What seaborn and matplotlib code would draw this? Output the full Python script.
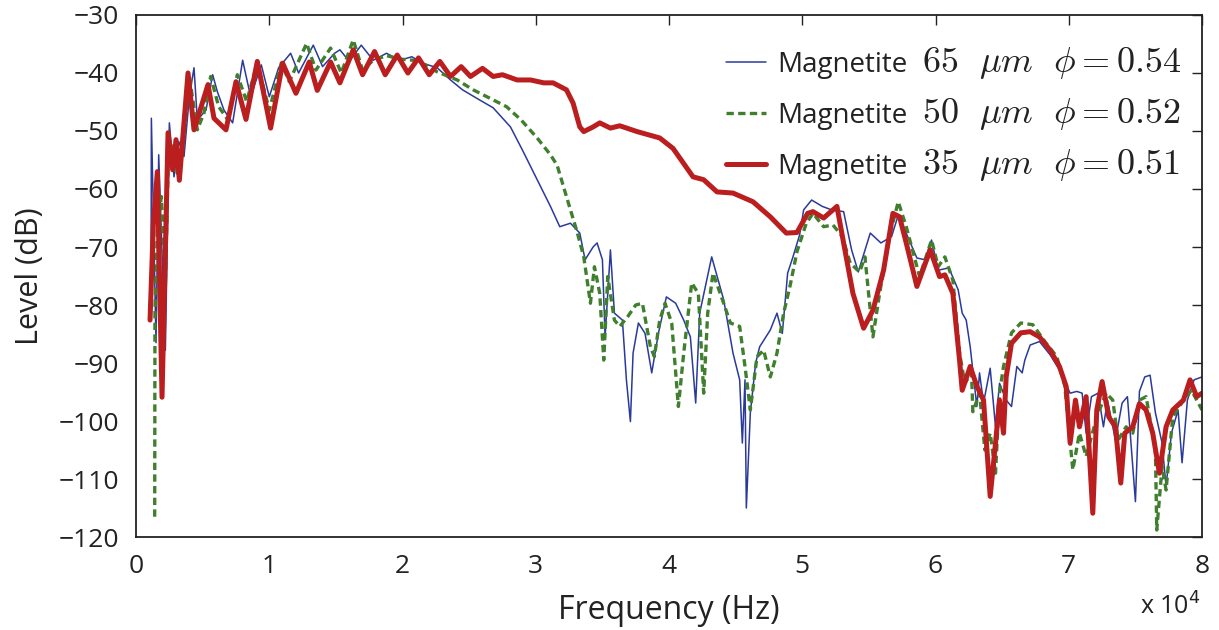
import numpy as np
import pandas as pd
import matplotlib
matplotlib.use("Agg")
import matplotlib.pyplot as plt
import seaborn as sns

# Spectra of the three magnetite samples: frequency (Hz) and level (dB)
freq_65 = [1130, 1150, 1500, 1700, 2200, 2500, 2850, 3200, 3600, 4000, 4350, 4600, 5250, 5750, 6100,
           6600, 7250, 8000, 8600, 9400, 10000, 10700, 11600, 12200, 13300, 14000, 14900, 15300, 16000,
           16900, 17800, 18800, 19800, 20700, 21500, 22600, 23600, 24500, 25600, 26800, 28100, 29000,
           30100, 31100, 31800, 32600, 33300, 33700, 34300, 34600, 35000, 35200, 35600, 35900, 36500,
           36800, 37100, 37300, 37700, 38200, 38700, 39200, 39800, 40500, 41100, 41600, 42000, 42300,
           43200, 44100, 44800, 45300, 45500, 45700, 45800, 46100, 46500, 46800, 47600, 48100, 48500,
           48900, 49300, 49800, 50100, 50700, 51500, 52200, 53100, 53700, 54200, 55100, 55900, 56700,
           57200, 57700, 58600, 59200, 59700, 60200, 61000, 61700, 62000, 62300, 62600, 63100, 63300,
           63600, 64100, 64500, 64800, 65300, 65700, 66100, 66500, 66700, 67100, 67800, 68600, 69300,
           70100, 70600, 71000, 71300, 71700, 72200, 72600, 72900, 73500, 74000, 74400, 75000, 75300,
           75700, 76100, 76500, 77000, 77300, 77700, 78200, 78500, 78900, 79400, 80000]
level_65 = [-72.8, -47.8, -86.5, -54.1, -87.8, -48.6, -57.9, -51.8, -54.4, -44.1, -39.1, -48.1, -46.4,
            -40.3, -43.2, -46.4, -48.6, -37.8, -44.1, -38.6, -44.1, -39.1, -36.6, -40.0, -35.2, -38.9,
            -36.6, -36.0, -38.0, -35.2, -37.8, -36.6, -37.8, -37.2, -38.3, -39.1, -41.2, -42.9, -44.4,
            -46.0, -49.3, -53.3, -58.4, -63.0, -66.5, -65.9, -67.6, -72.2, -70.0, -69.3, -72.2, -85.5,
            -70.5, -81.4, -82.6, -92.9, -100.1, -88.3, -83.1, -84.9, -91.7, -84.9, -78.6, -79.7, -82.6,
            -85.5, -96.9, -81.4, -71.7, -79.1, -88.3, -92.9, -103.8, -92.9, -115.0, -98.6, -90.0, -87.2,
            -84.3, -81.4, -84.9, -74.5, -71.7, -67.9, -63.6, -61.9, -63.0, -63.6, -63.9, -70.5, -74.3,
            -67.6, -69.3, -68.2, -64.5, -67.1, -71.9, -72.2, -68.8, -74.0, -73.6, -77.4, -81.4, -82.6,
            -87.2, -97.5, -91.7, -96.9, -90.9, -101.0, -93.5, -96.4, -97.5, -90.6, -91.7, -89.5, -86.9,
            -86.3, -88.6, -91.2, -95.2, -94.9, -95.2, -102.1, -95.8, -95.2, -101.0, -96.4, -103.3,
            -96.9, -95.8, -113.9, -94.9, -92.4, -92.1, -98.6, -103.8, -111.3, -102.1, -98.1, -107.2,
            -96.4, -92.9, -92.4]

freq_50 = [1400, 1420, 1600, 1900, 2200, 2400, 2750, 3100, 3500, 4000, 4600, 5100, 5600, 6200, 6900,
           7600, 8300, 9100, 10000, 10900, 11500, 12800, 13500, 14600, 15400, 16300, 17000, 17800,
           18800, 19800, 20800, 21700, 22600, 24100, 25300, 26600, 27800, 28900, 30100, 31100, 31600,
           32000, 32600, 33100, 33600, 34100, 34400, 34800, 35100, 35400, 35900, 36300, 36900, 37500,
           38000, 38600, 38900, 39300, 39700, 40200, 40700, 41100, 41700, 42200, 42600, 42900, 43300,
           44100, 44600, 45300, 45700, 46100, 46600, 47100, 47600, 48100, 48600, 49100, 49600, 50300,
           50800, 51600, 52300, 53000, 53600, 54300, 54700, 55300, 55800, 56600, 57200, 57800, 58800,
           59700, 60200, 60700, 61300, 61800, 62200, 62700, 62800, 63300, 63700, 64100, 64500, 64800,
           65100, 65700, 66400, 67300, 68300, 69100, 69700, 70300, 70800, 71300, 72100, 72800, 73300,
           73700, 74300, 74800, 75300, 75800, 76500, 76600, 77000, 77300, 77800, 78600, 79200, 80000]
level_50 = [-116.5, -80.9, -67.0, -61.3, -76.2, -56.7, -52.1, -57.3, -53.3, -40.6, -49.8, -46.9, -40.6,
            -45.8, -48.1, -40.3, -44.9, -38.3, -46.4, -38.3, -41.5, -34.9, -39.5, -35.7, -40.0, -34.3,
            -39.5, -37.8, -37.0, -37.6, -37.8, -38.6, -39.8, -41.2, -42.9, -44.4, -45.8, -48.1, -51.2,
            -54.1, -55.9, -59.0, -63.6, -67.4, -71.7, -79.7, -73.4, -78.0, -89.5, -75.1, -82.6, -83.7,
            -82.0, -80.0, -79.7, -87.2, -88.9, -82.6, -79.7, -83.1, -97.5, -88.3, -76.2, -78.0, -95.2,
            -81.4, -74.5, -79.7, -83.1, -83.7, -90.6, -98.1, -88.9, -87.8, -92.4, -88.3, -81.4, -76.5,
            -70.8, -65.9, -64.2, -66.5, -66.2, -68.2, -72.8, -74.3, -71.7, -85.5, -78.0, -67.6, -62.2,
            -66.5, -75.1, -68.8, -73.4, -71.7, -75.7, -88.3, -93.5, -91.7, -98.4, -95.2, -105.0,
            -102.1, -109.0, -95.2, -90.6, -84.8, -83.1, -83.4, -86.6, -88.9, -94.0, -108.4, -102.1,
            -106.1, -99.3, -95.2, -96.4, -103.3, -101.0, -102.1, -96.4, -95.8, -105.0, -118.8, -107.9,
            -111.9, -99.3, -96.4, -94.7, -98.1]

freq_35 = [1050, 1300, 1600, 1950, 2400, 2750, 3000, 3250, 3900, 4350, 5400, 5850, 6750, 7500, 8250,
           9100, 10100, 11000, 12000, 13000, 13600, 14600, 15300, 16300, 17000, 17900, 18700, 19600,
           20400, 21200, 22000, 22800, 23600, 24400, 25100, 26000, 26800, 27500, 28600, 29600, 30600,
           31300, 32300, 32800, 33300, 33600, 34300, 34800, 35600, 36300, 37600, 39300, 40300, 41800,
           42600, 43600, 44800, 46300, 47600, 48800, 49600, 50400, 50800, 51600, 52600, 53100, 53800,
           54600, 55300, 56100, 56800, 57300, 57800, 58600, 59600, 60300, 60700, 61300, 61800, 62000,
           62600, 63100, 63600, 64100, 64500, 64800, 65100, 65300, 65700, 66400, 67100, 67800, 68600,
           69300, 69800, 70100, 70500, 70800, 71300, 71800, 72100, 72500, 73000, 73500, 73900, 74200,
           74800, 75300, 75800, 76300, 76800, 77300, 77800, 78600, 79100, 79600, 80000]
level_35 = [-82.6, -66.0, -57.0, -95.9, -50.3, -56.7, -51.5, -58.5, -40.0, -49.8, -42.0, -47.8, -49.8,
            -41.5, -48.0, -38.0, -49.5, -38.3, -43.5, -38.1, -43.0, -38.1, -41.7, -36.0, -40.3, -36.3,
            -40.3, -36.9, -40.0, -37.4, -40.3, -38.0, -40.6, -38.9, -40.6, -39.2, -40.6, -40.3, -41.2,
            -41.2, -41.7, -41.7, -42.9, -45.2, -49.3, -50.1, -49.3, -48.6, -49.5, -49.1, -50.1, -51.2,
            -53.0, -57.9, -58.4, -60.5, -60.7, -62.2, -64.8, -67.6, -67.5, -64.2, -63.9, -65.0, -63.0,
            -69.3, -78.0, -84.0, -80.9, -74.0, -64.2, -64.8, -69.3, -76.8, -70.5, -75.1, -74.8, -78.0,
            -89.5, -94.7, -90.6, -94.0, -96.4, -113.0, -103.8, -96.4, -102.1, -92.4, -86.6, -84.8,
            -84.6, -85.5, -87.8, -90.6, -94.0, -103.8, -96.4, -101.0, -95.8, -115.9, -98.1, -93.2,
            -99.3, -101.0, -110.7, -102.1, -101.0, -97.0, -98.1, -102.1, -109.0, -101.0, -98.1, -96.4,
            -92.9, -95.8, -95.2]

material = "Magnetite"
sample_specs = [r"$65\ \ \mu m\ \ \phi = 0.54$",
                r"$50\ \ \mu m\ \ \phi = 0.52$",
                r"$35\ \ \mu m\ \ \phi = 0.51$"]
x_ticks = [0, 10000, 20000, 30000, 40000, 50000, 60000, 70000, 80000]
x_tick_labels = ["0", "1", "2", "3", "4", "5", "6", "7", "8"]
y_ticks = [-120, -110, -100, -90, -80, -70, -60, -50, -40, -30]

sns.set_theme(style="white")
plt.rcParams["font.family"] = ["Open Sans", "DejaVu Sans"]
plt.rcParams["mathtext.fontset"] = "cm"

fig = plt.figure(figsize=(12.19, 6.30), dpi=100)
ax = fig.add_axes([0.1116, 0.1476, 0.8745, 0.8286])

styles = [
    dict(color="#2a3a9c", linewidth=1.1, linestyle="-"),
    dict(color="#3f7f2e", linewidth=2.4, linestyle=(0, (2.2, 1.3))),
    dict(color="#bb1e1e", linewidth=3.6, linestyle="-"),
]
series = [(freq_65, level_65), (freq_50, level_50), (freq_35, level_35)]
for (fx, ly), spec, st in zip(series, sample_specs, styles):
    df = pd.DataFrame({"Frequency": fx, "Level": ly})
    sns.lineplot(data=df, x="Frequency", y="Level", ax=ax, sort=False,
                 estimator=None, label=material, **st)

ax.set_xlim(0, 80000)
ax.set_ylim(-120, -30)
ax.set_xticks(x_ticks)
ax.set_xticklabels(x_tick_labels)
ax.set_yticks(y_ticks)
ax.tick_params(direction="in", length=7, width=1, top=True, right=True,
               labelsize=19, colors="#222222")
ax.tick_params(axis="x", pad=12)
ax.tick_params(axis="y", pad=12)
for side in ax.spines.values():
    side.set_color("#222222")
    side.set_linewidth(1.3)

ax.set_xlabel("Frequency (Hz)", fontsize=23, color="#222222", labelpad=11)
ax.set_ylabel("Level (dB)", fontsize=22, color="#222222", labelpad=10)
fig.text(0.985, 0.025, r"x 10$^{4}$", fontsize=18, color="#222222", ha="right",
         math_fontfamily="dejavusans")

leg = ax.legend(loc="upper left", frameon=False, fontsize=20, handlelength=1.45,
                handletextpad=0.4, labelspacing=0.82, borderaxespad=0.0,
                bbox_to_anchor=(0.543, 0.952))
for txt in leg.get_texts():
    txt.set_color("#222222")

# Sample size and packing fraction written in larger math type after each entry
fig.canvas.draw()
to_fig = fig.transFigure.inverted()
for txt, spec in zip(leg.get_texts(), sample_specs):
    bb = txt.get_window_extent()
    base = txt.get_transform().transform(txt.get_position())
    fx0, fy0 = to_fig.transform((bb.x1 + 14, base[1]))
    fig.text(fx0, fy0, spec, fontsize=26, color="#222222", va="baseline")

fig.savefig("out.png", dpi=100, facecolor="white")
